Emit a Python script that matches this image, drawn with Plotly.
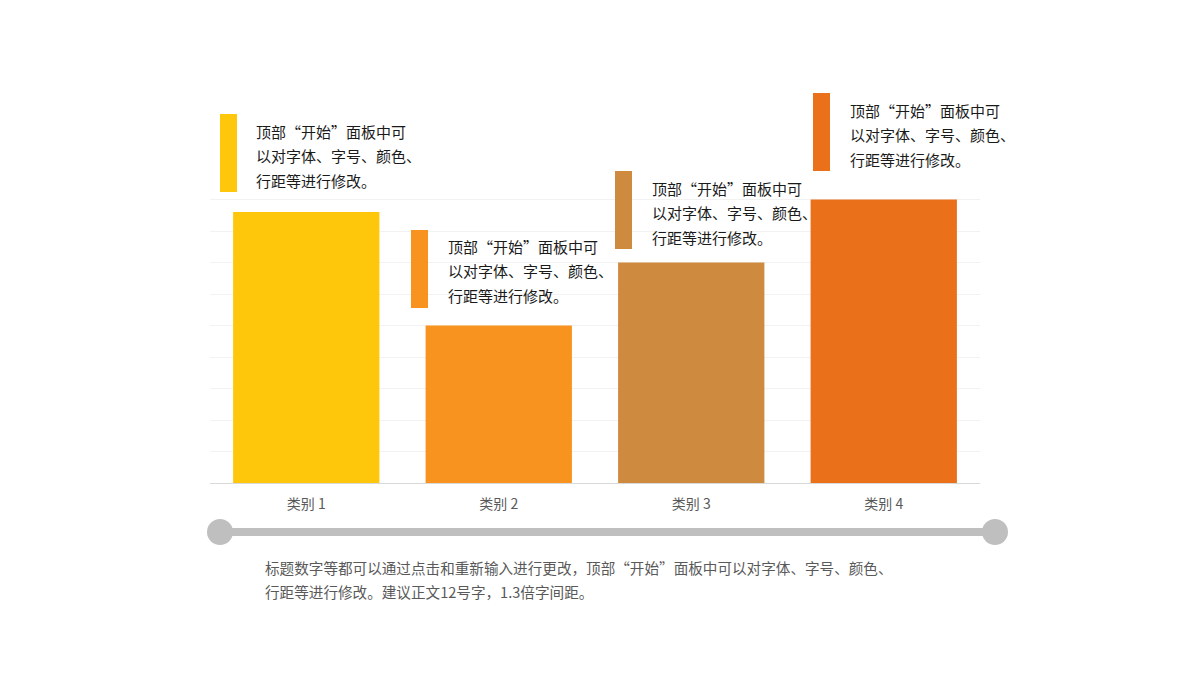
import plotly.graph_objects as go

categories = ["类别 1", "类别 2", "类别 3", "类别 4"]
values = [4.3, 2.5, 3.5, 4.5]
colors = ["#FEC70B", "#F7931E", "#CE8B40", "#EA7019"]

note_lines = ["顶部“开始”面板中可", "以对字体、字号、颜色、", "行距等进行修改。"]
footer_lines = ["标题数字等都可以通过点击和重新输入进行更改，顶部“开始”面板中可以对字体、字号、颜色、",
                "行距等进行修改。建议正文12号字，1.3倍字间距。"]

W, H = 1200, 680
ML, MR, MT, MB = 210, 220, 168, 197
PW, PH = W - ML - MR, H - MT - MB
FONT = "Noto Sans CJK SC, Microsoft YaHei, sans-serif"

fig = go.Figure()
fig.add_trace(go.Bar(x=categories, y=values, marker=dict(color=colors, line=dict(width=0)),
                     hoverinfo="skip"))

def px(x):
    return (x - ML) / PW

def py(y):
    return (H - MB - y) / PH

shapes = []
annotations = []

# callout blocks: (rect left, rect top, text x, first line y)
blocks = [(220, 114, 257, 131), (411, 230, 449, 246), (615, 171, 653, 188), (813, 93, 851, 110)]
for (rx, ry, tx, ty), c in zip(blocks, colors):
    shapes.append(dict(type="rect", xref="paper", yref="paper",
                       x0=px(rx), x1=px(rx + 17), y0=py(ry + 78), y1=py(ry),
                       fillcolor=c, line=dict(width=0), layer="above"))
    for i, t in enumerate(note_lines):
        annotations.append(dict(xref="paper", yref="paper", x=px(tx - 3), y=py(ty + i * 24.5),
                                text=t, showarrow=False, xanchor="left", yanchor="middle",
                                font=dict(family=FONT, size=15, color="#1A1A1A")))

# bottom timeline bar with end circles
shapes.append(dict(type="line", xref="paper", yref="paper", x0=px(220), x1=px(995),
                   y0=py(532), y1=py(532), line=dict(color="#BFBFBF", width=8), layer="above"))
for cx in (220, 995):
    shapes.append(dict(type="circle", xref="paper", yref="paper",
                       x0=px(cx - 13), x1=px(cx + 13), y0=py(532 + 13), y1=py(532 - 13),
                       fillcolor="#BFBFBF", line=dict(width=0), layer="above"))

for i, t in enumerate(footer_lines):
    annotations.append(dict(xref="paper", yref="paper", x=px(263), y=py(567 + i * 24.5),
                            text=t, showarrow=False, xanchor="left", yanchor="middle",
                            font=dict(family=FONT, size=14.6, color="#595959")))

fig.update_layout(
    width=W, height=H,
    margin=dict(l=ML, r=MR, t=MT, b=MB),
    paper_bgcolor="white", plot_bgcolor="white",
    showlegend=False, bargap=0.24,
    font=dict(family=FONT),
    shapes=shapes, annotations=annotations,
    xaxis=dict(showgrid=False, showline=True, linecolor="#D9D9D9", linewidth=1,
               ticks="", tickfont=dict(size=14, color="#595959", family=FONT), ticklabelstandoff=8),
    yaxis=dict(range=[0, 5], dtick=0.5, showgrid=True, gridcolor="#F2F2F2", gridwidth=1,
               showticklabels=False, zeroline=False, ticks=""),
)

fig.write_html("out.html")
